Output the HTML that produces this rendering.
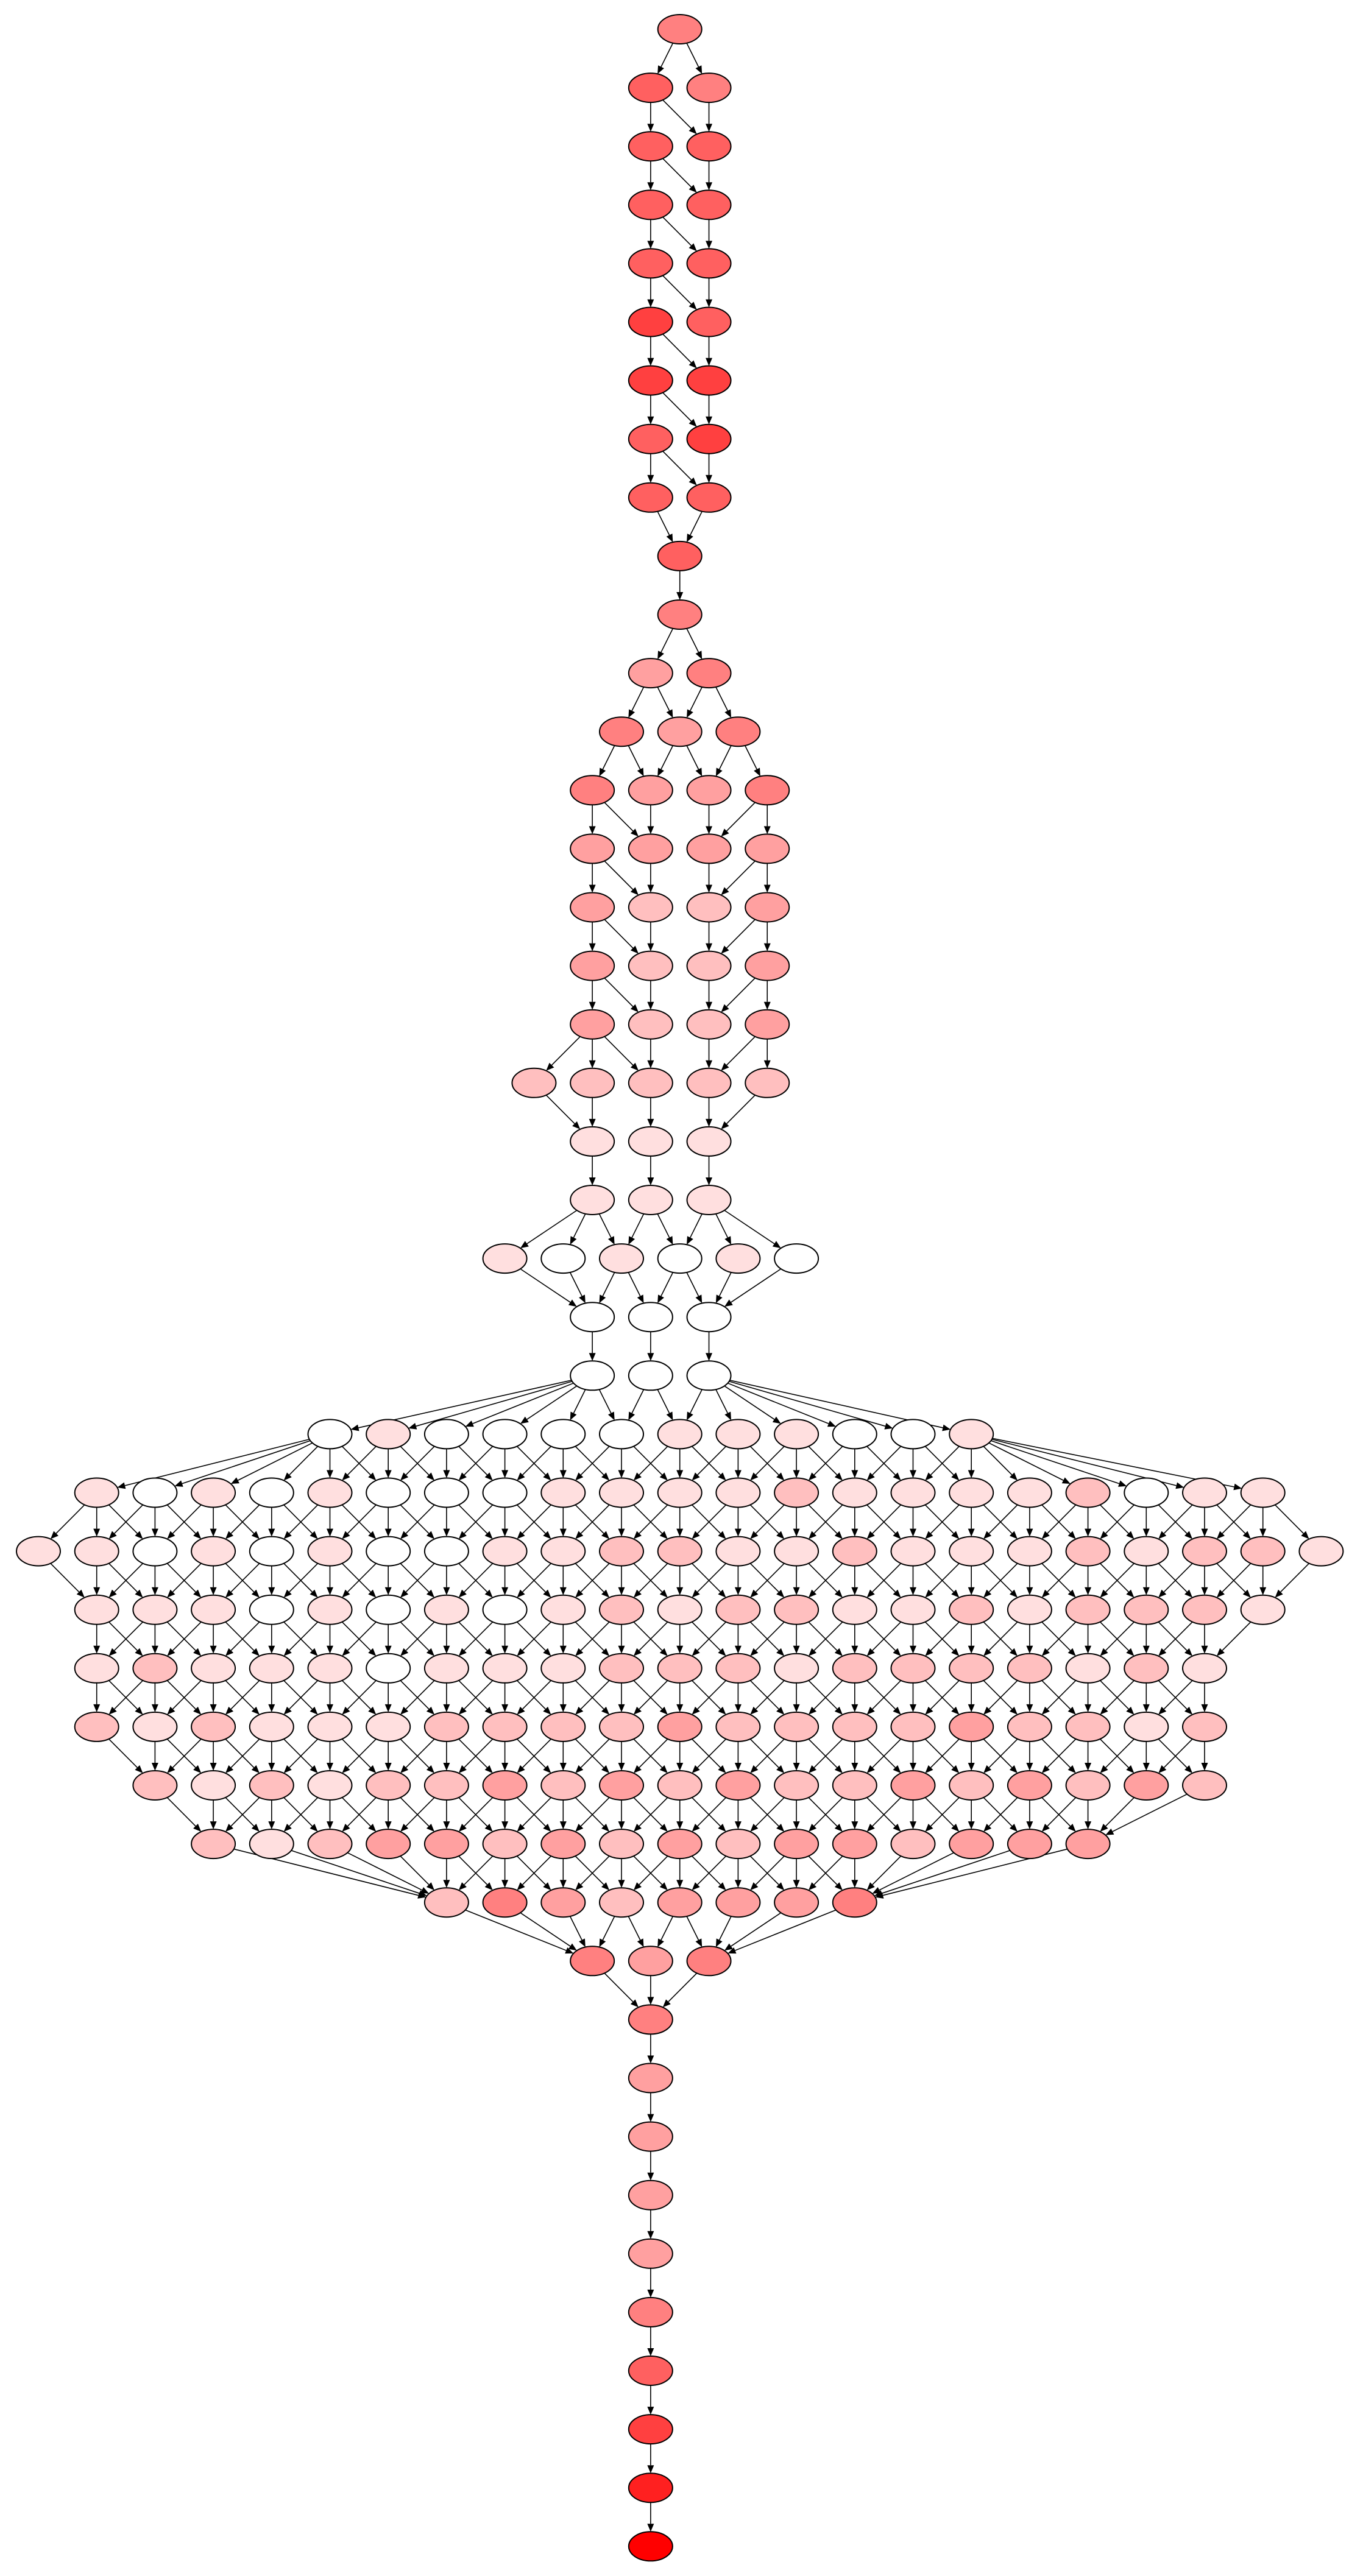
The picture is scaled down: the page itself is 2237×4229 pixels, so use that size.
<!DOCTYPE html>
<html><head><meta charset="utf-8"><style>
html,body{margin:0;padding:0;background:#fff;}
svg{display:block;}
</style></head>
<body>
<svg id="graph" width="2237" height="4229" viewBox="0 0 2237 4229" xmlns="http://www.w3.org/2000/svg">
<g id="edges"></g>
<g id="nodes"></g>
</svg>
<script>
// node color levels
const palette = ["#ffffff","#ffdfdf","#ffbfbf","#ffa0a0","#ff8080","#ff6060","#ff4040","#ff2020","#ff0000"];
// each row: list of [column, colorLevel]
const rows = [
 [[11,4]],
 [[10.5,5],[11.5,4]],
 [[10.5,5],[11.5,5]],
 [[10.5,5],[11.5,5]],
 [[10.5,5],[11.5,5]],
 [[10.5,6],[11.5,5]],
 [[10.5,6],[11.5,6]],
 [[10.5,5],[11.5,6]],
 [[10.5,5],[11.5,5]],
 [[11,5]],
 [[11,4]],
 [[10.5,3],[11.5,4]],
 [[10,4],[11,3],[12,4]],
 [[9.5,4],[10.5,3],[11.5,3],[12.5,4]],
 [[9.5,3],[10.5,3],[11.5,3],[12.5,3]],
 [[9.5,3],[10.5,2],[11.5,2],[12.5,3]],
 [[9.5,3],[10.5,2],[11.5,2],[12.5,3]],
 [[9.5,3],[10.5,2],[11.5,2],[12.5,3]],
 [[8.5,2],[9.5,2],[10.5,2],[11.5,2],[12.5,2]],
 [[9.5,1],[10.5,1],[11.5,1]],
 [[9.5,1],[10.5,1],[11.5,1]],
 [[8,1],[9,0],[10,1],[11,0],[12,1],[13,0]],
 [[9.5,0],[10.5,0],[11.5,0]],
 [[9.5,0],[10.5,0],[11.5,0]]
];
// dense rows: starting column and color levels
const denseStart = [5,1,0,1,1,1,2,3,7];
const denseColors = [
 [0,1,0,0,0,0,1,1,1,0,0,1],
 [1,0,1,0,1,0,0,0,1,1,1,1,2,1,1,1,1,2,0,1,1],
 [1,1,0,1,0,1,0,0,1,1,2,2,1,1,2,1,1,1,2,1,2,2,1],
 [1,1,1,0,1,0,1,0,1,2,1,2,2,1,1,2,1,2,2,2,1],
 [1,2,1,1,1,0,1,1,1,2,2,2,1,2,2,2,2,1,2,1],
 [2,1,2,1,1,1,2,2,2,2,3,2,2,2,2,3,2,2,1,2],
 [2,1,2,1,2,2,3,2,3,2,3,2,2,3,2,3,2,3,2],
 [2,1,2,3,3,2,3,2,3,2,3,3,2,3,3,3],
 [2,4,3,2,3,3,3,4]
];
const bottomRows = [
 [[9.5,4],[10.5,3],[11.5,4]],
 [[10.5,4]],[[10.5,3]],[[10.5,3]],[[10.5,3]],[[10.5,3]],
 [[10.5,4]],[[10.5,5]],[[10.5,6]],[[10.5,7]],[[10.5,8]]
];
// extra diagonal edges: [row, fromCol, toCol]
const chainDiagonals = [[1,10.5,11.5],[2,10.5,11.5],[3,10.5,11.5],[4,10.5,11.5],[5,10.5,11.5],[6,10.5,11.5],[7,10.5,11.5],
 [13,9.5,10.5],[14,9.5,10.5],[15,9.5,10.5],[16,9.5,10.5],[17,9.5,10.5],
 [13,12.5,11.5],[14,12.5,11.5],[15,12.5,11.5],[16,12.5,11.5],[17,12.5,11.5]];

const allRows = rows.slice();
denseColors.forEach((cs,i)=>{allRows.push(cs.map((c,j)=>[denseStart[i]+j,c]));});
bottomRows.forEach(r=>allRows.push(r));

const X = c => 63 + 95.7*c;
const Y = k => 48 + 96.1*k;
const RX = 36, RY = 24;
const NS = "http://www.w3.org/2000/svg";
const eg = document.getElementById('edges'), ng = document.getElementById('nodes');

function edge(k1,c1,k2,c2){
  const x1=X(c1), y1=Y(k1), x2=X(c2), y2=Y(k2);
  const dx=x2-x1, dy=y2-y1;
  let t = 1/Math.sqrt((dx*dx)/(RX*RX)+(dy*dy)/(RY*RY));
  const sx=x1+dx*t, sy=y1+dy*t;
  const ex=x2-dx*t, ey=y2-dy*t;
  const L=Math.hypot(ex-sx,ey-sy), ux=(ex-sx)/L, uy=(ey-sy)/L;
  const ax=ex-ux*13, ay=ey-uy*13;
  const line=document.createElementNS(NS,'line');
  
  
  line.setAttribute('x1',sx);line.setAttribute('y1',sy);line.setAttribute('x2',ax);line.setAttribute('y2',ay);
  line.setAttribute('stroke','#000');line.setAttribute('stroke-width','1.6');
  eg.appendChild(line);
  const p=document.createElementNS(NS,'polygon');
  
  
  p.setAttribute('points',`${ex},${ey} ${ax-uy*5.5},${ay+ux*5.5} ${ax+uy*5.5},${ay-ux*5.5}`);
  eg.appendChild(p);
}

for(let k=0;k<allRows.length-1;k++){
  const a=allRows[k], b=allRows[k+1];
  const dense = k>=24 && k<32;
  const lim = dense ? 1.01 : 0.6;
  const hasParent=b.map(()=>false), hasChild=a.map(()=>false);
  a.forEach((s,i)=>b.forEach((t,j)=>{
    if(Math.abs(s[0]-t[0])<=lim){edge(k,s[0],k+1,t[0]);hasParent[j]=true;hasChild[i]=true;}
  }));
  b.forEach((t,j)=>{ if(!hasParent[j]){
    let best=a[0]; a.forEach(s=>{if(Math.abs(s[0]-t[0])<Math.abs(best[0]-t[0]))best=s;});
    edge(k,best[0],k+1,t[0]); }});
  a.forEach((s,i)=>{ if(!hasChild[i]){
    let best=b[0]; b.forEach(t=>{if(Math.abs(s[0]-t[0])<Math.abs(best[0]-s[0]))best=t;});
    edge(k,s[0],k+1,best[0]); }});
}
chainDiagonals.forEach(d=>edge(d[0],d[1],d[0]+1,d[2]));

allRows.forEach((r,k)=>r.forEach(n=>{
  const e=document.createElementNS(NS,'ellipse');
  
  
  e.setAttribute('cx',X(n[0]));e.setAttribute('cy',Y(k));
  e.setAttribute('rx',RX);e.setAttribute('ry',RY);
  e.setAttribute('fill',palette[n[1]]);e.setAttribute('stroke','#000');e.setAttribute('stroke-width','2');
  ng.appendChild(e);
}));
</script>
</body></html>
